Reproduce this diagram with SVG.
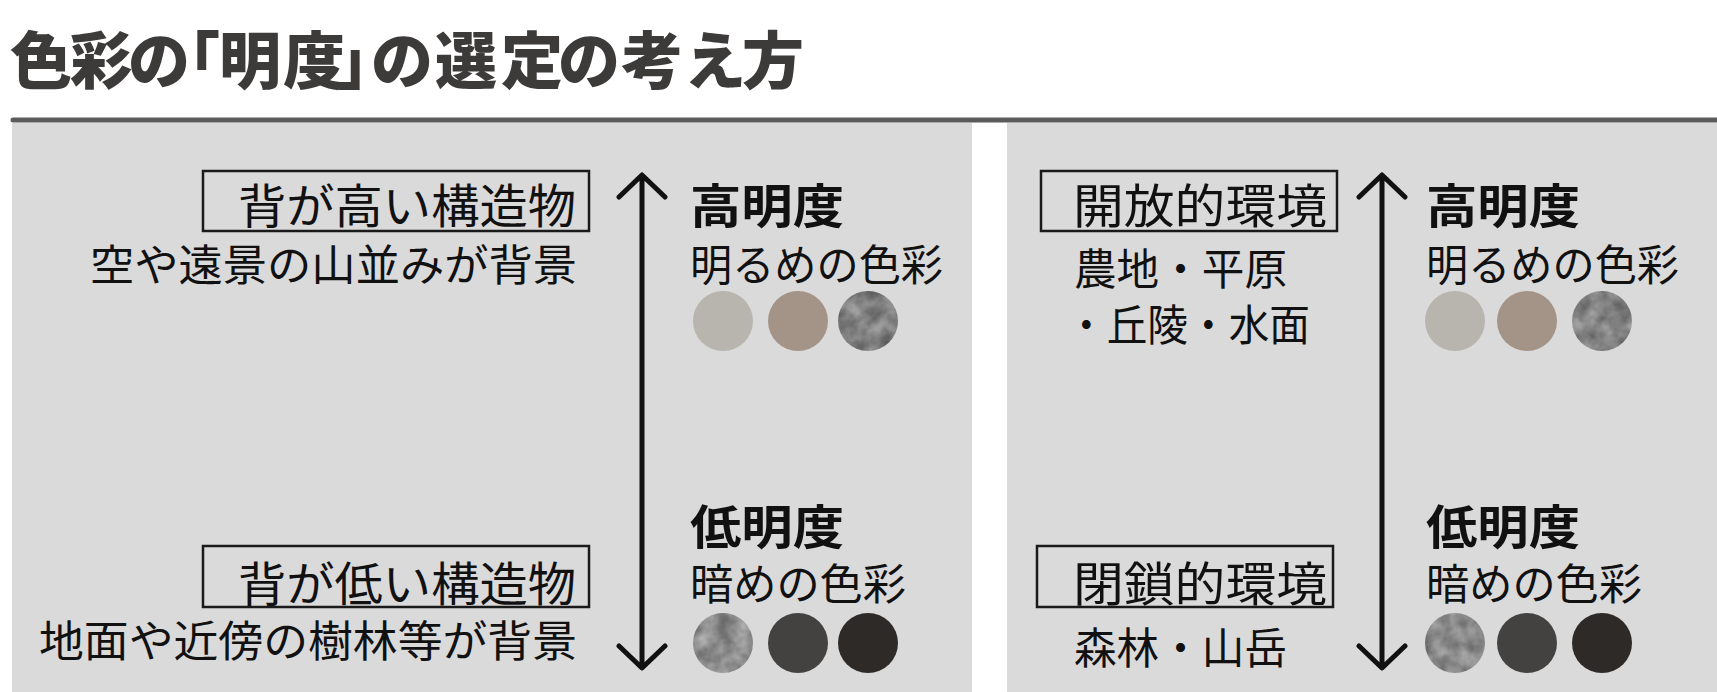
<svg xmlns="http://www.w3.org/2000/svg" width="1717" height="692" viewBox="0 0 1717 692">
<defs>
<style>
.t{font-family:"Noto Sans CJK JP","Noto Sans CJK SC",sans-serif;fill:#111;}
.box{font-size:47px;}
.sub{font-size:43px;}
.hd{font-size:47px;font-weight:bold;}
.frame{fill:none;stroke:#1a1a1a;stroke-width:2.5;}
.arr{fill:none;stroke:#111;stroke-width:5;stroke-linecap:round;stroke-linejoin:round;}
</style>
<filter id="mottle" x="0" y="0" width="1" height="1" color-interpolation-filters="sRGB">
<feTurbulence type="fractalNoise" baseFrequency="0.06" numOctaves="3" seed="4" result="n"/>
<feColorMatrix in="n" type="matrix" values="0.42 0 0 0 0.29  0.42 0 0 0 0.29  0.42 0 0 0 0.29  0 0 0 0 1" result="g"/>
<feComposite in="g" in2="SourceGraphic" operator="in"/>
</filter>
<filter id="mottle2" x="0" y="0" width="1" height="1" color-interpolation-filters="sRGB">
<feTurbulence type="fractalNoise" baseFrequency="0.06" numOctaves="3" seed="9" result="n"/>
<feColorMatrix in="n" type="matrix" values="0.42 0 0 0 0.33  0.42 0 0 0 0.33  0.42 0 0 0 0.33  0 0 0 0 1" result="g"/>
<feComposite in="g" in2="SourceGraphic" operator="in"/>
</filter>
</defs>
<rect width="1717" height="692" fill="#ffffff"/>
<g id="title">
<text class="t" x="10 70 128 158 219 283 337 371 435 501 558 621 684 742" y="84" font-size="62" font-weight="900" style="fill:#3d3a3a">色彩の「明度」の選定の考え方</text>
<line x1="13" y1="120" x2="1717" y2="120" stroke="#5b5b5b" stroke-width="5" stroke-linecap="round"/>
</g>
<g id="panels">
<rect x="12" y="123" width="960" height="569" fill="#dadada"/>
<rect x="1007" y="123" width="710" height="569" fill="#dadada"/>
</g>
<g id="connectors">
<path class="arr" d="M642 178 V666 M619 197 L642 175 L665 197 M619 646 L642 668 L665 646"/>
<path class="arr" d="M1382 178 V666 M1359 197 L1382 175 L1405 197 M1359 646 L1382 668 L1405 646"/>
</g>
<g id="left-high">
<rect class="frame" x="203" y="171" width="386" height="60"/>
<text class="t box" x="238" y="223" textLength="338" lengthAdjust="spacingAndGlyphs">背が高い構造物</text>
<text class="t sub" x="90" y="281" textLength="487" lengthAdjust="spacingAndGlyphs">空や遠景の山並みが背景</text>
</g>
<g id="left-low">
<rect class="frame" x="203" y="546" width="386" height="61"/>
<text class="t box" x="238" y="601" textLength="338" lengthAdjust="spacingAndGlyphs">背が低い構造物</text>
<text class="t sub" x="39" y="657" textLength="538" lengthAdjust="spacingAndGlyphs">地面や近傍の樹林等が背景</text>
</g>
<g id="left-high-scale">
<text class="t hd" x="690" y="223" textLength="154" lengthAdjust="spacingAndGlyphs">高明度</text>
<text class="t sub" x="690" y="281" textLength="253" lengthAdjust="spacingAndGlyphs">明るめの色彩</text>
<circle cx="723" cy="321" r="30" fill="#b8b4ae"/>
<circle cx="798" cy="321" r="30" fill="#a49488"/>
<circle cx="868" cy="321" r="30" fill="#808080" filter="url(#mottle)"/>
</g>
<g id="left-low-scale">
<text class="t hd" x="690" y="544" textLength="154" lengthAdjust="spacingAndGlyphs">低明度</text>
<text class="t sub" x="690" y="600" textLength="216" lengthAdjust="spacingAndGlyphs">暗めの色彩</text>
<circle cx="723" cy="643" r="30" fill="#8a8a8a" filter="url(#mottle2)"/>
<circle cx="798" cy="643" r="30" fill="#434240"/>
<circle cx="868" cy="643" r="30" fill="#2e2a27"/>
</g>
<g id="right-open">
<rect class="frame" x="1041" y="171" width="296" height="60"/>
<text class="t box" x="1073" y="223" textLength="254" lengthAdjust="spacingAndGlyphs">開放的環境</text>
<text class="t sub" x="1074" y="285" textLength="213" lengthAdjust="spacingAndGlyphs">農地・平原</text>
<text class="t sub" x="1066" y="341" textLength="244" lengthAdjust="spacingAndGlyphs">・丘陵・水面</text>
</g>
<g id="right-closed">
<rect class="frame" x="1037" y="546" width="296" height="61"/>
<text class="t box" x="1073" y="601" textLength="254" lengthAdjust="spacingAndGlyphs">閉鎖的環境</text>
<text class="t sub" x="1074" y="664" textLength="213" lengthAdjust="spacingAndGlyphs">森林・山岳</text>
</g>
<g id="right-high-scale">
<text class="t hd" x="1426" y="223" textLength="154" lengthAdjust="spacingAndGlyphs">高明度</text>
<text class="t sub" x="1426" y="281" textLength="253" lengthAdjust="spacingAndGlyphs">明るめの色彩</text>
<circle cx="1455" cy="321" r="30" fill="#b8b4ae"/>
<circle cx="1527" cy="321" r="30" fill="#a49488"/>
<circle cx="1602" cy="321" r="30" fill="#808080" filter="url(#mottle)"/>
</g>
<g id="right-low-scale">
<text class="t hd" x="1426" y="544" textLength="154" lengthAdjust="spacingAndGlyphs">低明度</text>
<text class="t sub" x="1426" y="600" textLength="216" lengthAdjust="spacingAndGlyphs">暗めの色彩</text>
<circle cx="1455" cy="643" r="30" fill="#8a8a8a" filter="url(#mottle2)"/>
<circle cx="1527" cy="643" r="30" fill="#434240"/>
<circle cx="1602" cy="643" r="30" fill="#2e2a27"/>
</g>
</svg>
